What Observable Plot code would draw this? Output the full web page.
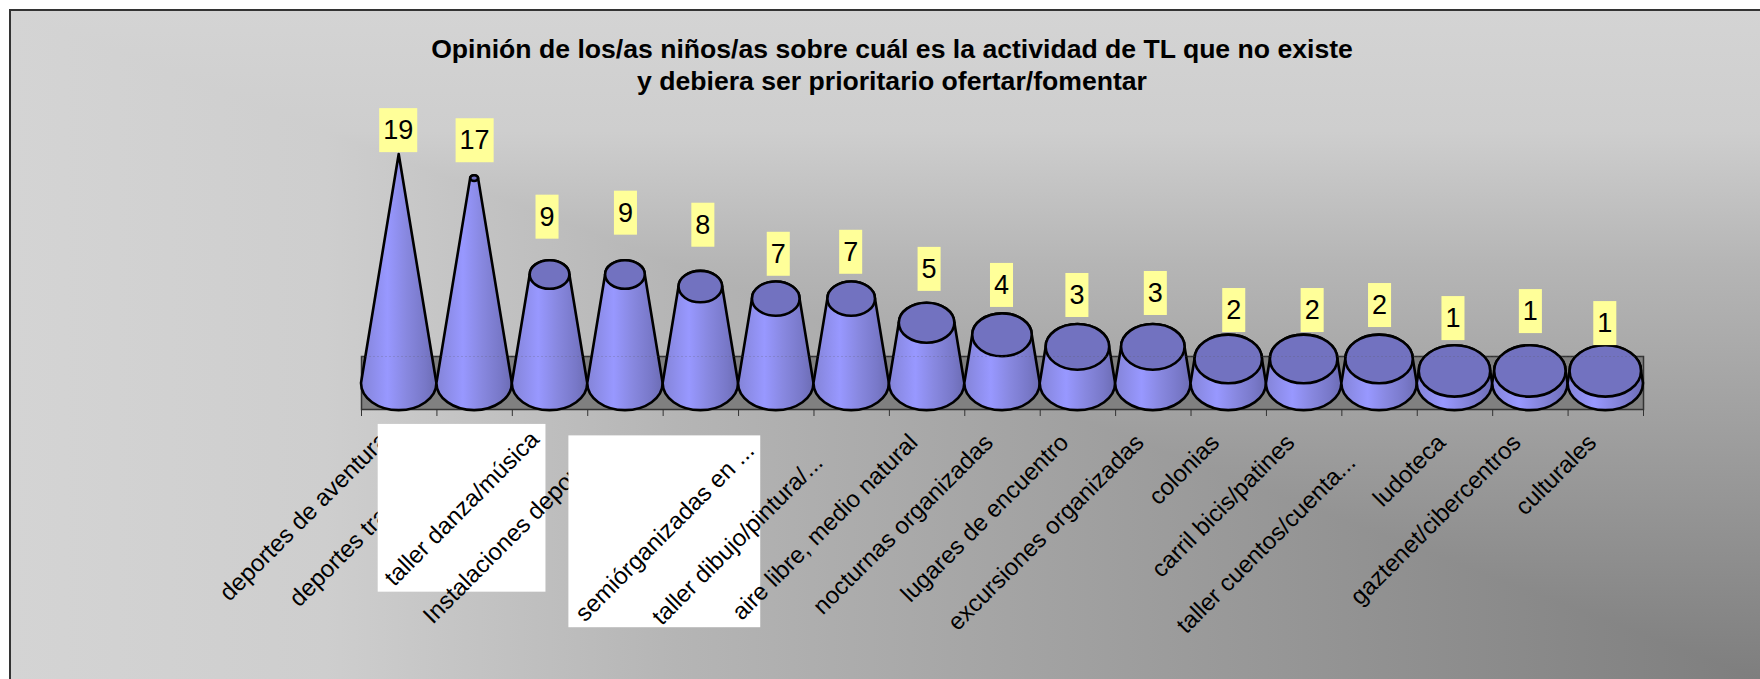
<!DOCTYPE html>
<html>
<head>
<meta charset="utf-8">
<script src="https://cdn.jsdelivr.net/npm/d3@7"></script>
<script src="https://cdn.jsdelivr.net/npm/@observablehq/plot@0.6"></script>
<style>
  html, body { margin: 0; padding: 0; background: #fff; overflow: hidden; }
  #marco { position: absolute; left: 9px; top: 9px; width: 1751px; height: 670px; box-sizing: border-box;
    border-left: 2px solid #333; border-top: 2px solid #333;
    background-image:
      linear-gradient(to left, #7e7e7e 0%, #a4a4a4 43%, #b5b5b5 62%, #cecece 82%, #d4d4d4 100%),
      linear-gradient(to top, #7e7e7e 0%, #a4a4a4 43%, #b5b5b5 62%, #cecece 82%, #d4d4d4 100%);
    background-blend-mode: lighten; }
  #lienzo { position: absolute; left: 0; top: 0; }
  #titulo { position: absolute; left: 0; top: 33px; width: 1784px; text-align: center;
    font: bold 26.6px/32px "Liberation Sans", Arial, sans-serif; color: #000; }
</style>
</head>
<body>
<div id="marco"></div>
<div id="lienzo"></div>
<div id="titulo">Opinión de los/as niños/as sobre cuál es la actividad de TL que no existe<br>y debiera ser prioritario ofertar/fomentar</div>
<script>
const categorias = ["deportes de aventura","deportes tradicionales","taller danza/música","Instalaciones deportivas","","semiórganizadas en ...","taller dibujo/pintura/...","aire libre, medio natural","nocturnas organizadas","lugares de encuentro","excursiones organizadas","colonias","carril bicis/patines","taller cuentos/cuenta...","ludoteca","gaztenet/cibercentros","culturales"];
const valores = [19,17,9,9,8,7,7,5,4,3,3,2,2,2,1,1,1];
const filas = categorias.map((categoria, i) => ({categoria, valor: valores[i]}));

// Layout only: hand-placed offsets of the value labels and category labels
const desplazEtiqueta = [[-1,-24],[0,-38],[-3,-58],[0,-62],[2,-62],[2,-45],[-1,-47],[2,-54],[-1,-50],[-1,-52],[2,-54],[5,-49],[8,-49],[0,-54],[-2,-53],[0,-60],[-1,-48]];
const cajasBlancas = new Set(["taller danza/música", "semiórganizadas en ..."]);
const ajustesEje = new Map([
  ["deportes de aventura", [-15, 53]],
  ["deportes tradicionales", [-15, 53]],
  ["taller danza/música", [-15, 52]],
  ["Instalaciones deportivas", [-16, 54]],
  ["semiórganizadas en ...", [-26, 63]],
  ["taller dibujo/pintura/...", [-33, 75]],
  ["taller cuentos/cuenta...", [-28, 75]]
]);
const desplazEje = c => ajustesEje.get(c) ?? [-13.5, 55];

const ANCHO_BANDA = (1643 - 361) / categorias.length;
const RATIO = 0.72;

function conos(index, scales, values) {
  const g = d3.create("svg:g");
  const max = d3.max(valores);
  const R = scales.x.bandwidth() / 2;
  for (const i of index) {
    const d = filas[i];
    const cx = scales.x(d.categoria) + R;
    const y0 = scales.y(0), y1 = scales.y(d.valor);
    const r = R * (1 - d.valor / max);
    const ry0 = R * RATIO, ry1 = r * RATIO;
    g.append("path")
      .attr("d", `M${cx - R},${y0}A${R},${ry0} 0 0 0 ${cx + R},${y0}L${cx + r},${y1}` +
        (r > 0 ? `A${r},${ry1} 0 0 0 ${cx - r},${y1}` : "") + "Z")
      .attr("fill", "url(#gradCono)").attr("stroke", "#000").attr("stroke-width", 2.6).attr("stroke-linejoin", "round");
    if (r > 0) g.append("ellipse").attr("cx", cx).attr("cy", y1).attr("rx", r).attr("ry", ry1)
      .attr("fill", "#7272c0").attr("stroke", "#000").attr("stroke-width", 2.6);
  }
  return g.node();
}

function defs() {
  const d = d3.create("svg:defs");
  const lg = d.append("linearGradient").attr("id", "gradCono").attr("x1", 0).attr("x2", 1).attr("y1", 0).attr("y2", 0);
  [[0,"#8484d8"],[0.35,"#9898ff"],[0.6,"#8888e0"],[0.85,"#7878c8"],[1,"#6c6cb4"]].forEach(([o,c]) =>
    lg.append("stop").attr("offset", o).attr("stop-color", c));
  return d.node();
}

const plot = Plot.plot({
  width: 1760, height: 679,
  marginLeft: 361, marginRight: 117, marginTop: 356, marginBottom: 270,
  style: {background: "transparent", fontFamily: '"Liberation Sans", Arial, sans-serif', color: "#000"},
  x: {type: "band", domain: categorias, range: [361, 1643], padding: 0, round: false},
  y: {domain: [0, 19], range: [383, 154], axis: null},
  marks: [
    defs,
    Plot.frame({fill: "#808080", stroke: "#333", strokeWidth: 1.5}),
    Plot.axisX({ticks: categorias, tickFormat: () => "", label: null, tickSize: 7, dx: -ANCHO_BANDA / 2, stroke: "#333"}),
    Plot.axisX({ticks: categorias.slice(-1), tickFormat: () => "", label: null, tickSize: 7, dx: ANCHO_BANDA / 2, stroke: "#333"}),
    Plot.barY(filas, {x: "categoria", y: "valor", render: conos}),
    Plot.frame({anchor: "top", stroke: "#555", strokeOpacity: 0.22, strokeDasharray: "1,3"}),
    ...categorias.filter(c => c).map(c => {
      const [dx, dy] = desplazEje(c);
      return Plot.text([c], {x: d => d, y: () => 0, text: d => d, rotate: -45, textAnchor: "end", fontSize: 24,
        dx, dy, fill: "#000", className: cajasBlancas.has(c) ? "cajaBlanca" : "ejeEtiqueta"});
    }),
    ...filas.map((f, i) => Plot.text([f], {x: "categoria", y: "valor", text: d => String(d.valor), fontSize: 27,
      dx: desplazEtiqueta[i][0], dy: desplazEtiqueta[i][1], fill: "#000", className: "valorEtiqueta"}))
  ]
});
document.getElementById("lienzo").appendChild(plot);

function fondo(selector, color, padX, padY) {
  plot.querySelectorAll(selector).forEach(g => {
    const b = g.querySelector("text").getBoundingClientRect();
    const r = document.createElementNS("http://www.w3.org/2000/svg", "rect");
    r.setAttribute("x", b.left - padX); r.setAttribute("y", b.top - padY);
    r.setAttribute("width", b.width + 2 * padX); r.setAttribute("height", b.height + 2 * padY);
    r.setAttribute("fill", color);
    g.parentNode.insertBefore(r, g);
  });
}
fondo("g.cajaBlanca", "#fff", 1, 1);
fondo("g.valorEtiqueta", "#ffff99", 4, 7);
</script>
</body>
</html>
